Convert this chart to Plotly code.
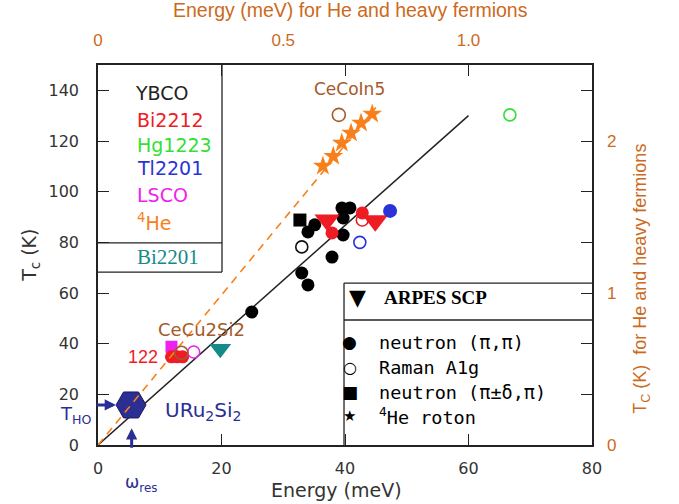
import plotly.graph_objects as go

# ---- data (primary axes: meV, K) ----
ybco_fill_E = [24.9, 33.0, 34.0, 37.9, 34.0, 35.1, 39.5, 40.8, 39.7, 39.7]
ybco_fill_T = [52.5, 67.9, 63.2, 74.2, 84.1, 86.9, 93.6, 93.6, 89.6, 82.9]
ybco_open_E = [33.0]
ybco_open_T = [78.2]
ybco_sq_E = [32.7]
ybco_sq_T = [88.8]
bi2212_fill_E = [37.9, 42.8]
bi2212_fill_T = [83.7, 91.6]
bi2212_open_E = [42.8]
bi2212_open_T = [88.8]
bi2212_arpes_E = [37.1, 44.9]
bi2212_arpes_T = [88.8, 88.5]
hg1223_open_E = [66.7]
hg1223_open_T = [130.3]
tl2201_fill_E = [47.3]
tl2201_fill_T = [92.4]
tl2201_open_E = [42.4]
tl2201_open_T = [80.0]
lsco_sq_E = [11.9]
lsco_sq_T = [38.8]
lsco_open_E = [15.5]
lsco_open_T = [36.7]
p122_E = [11.9, 12.8, 13.7]
p122_T = [34.8, 34.8, 34.8]
bi2201_E = [19.8]
bi2201_T = [38.0]
uru2si2_E = [5.35]
uru2si2_T = [15.8]
line_E = [0, 60]
line_T = [0, 130]

# ---- He and heavy fermions (secondary axes: meV, K) ----
he_E = [0.607, 0.635, 0.658, 0.683, 0.710, 0.740]
he_T = [1.835, 1.900, 1.987, 2.053, 2.118, 2.178]
hf_E = [0.650, 0.225]
hf_T = [2.172, 0.607]
he_line_E = [0, 0.75]
he_line_T = [0, 2.22]

ORANGE = "#CC6A1C"
STAR = "#F7801A"
BROWN = "#A45A2A"
NAVY = "#2B2E92"
RED = "#EE1C24"
GREEN = "#33E033"
BLUE = "#2B33D8"
MAG = "#EE22EE"
TEAL = "#158A8A"
FONT = "DejaVu Sans"
ARIAL = "Liberation Sans"
MONO = "DejaVu Sans Mono"

fig = go.Figure()


def sc(x, y, sym, color, size, filled=True, lw=1.6, xa="x", ya="y"):
    fig.add_trace(go.Scatter(
        x=x, y=y, mode="markers", xaxis=xa, yaxis=ya,
        marker=dict(symbol=sym if filled else sym + "-open", size=size,
                    color=color, line=dict(width=lw if not filled else 0, color=color)),
        showlegend=False, hoverinfo="skip", cliponaxis=False))


fig.add_trace(go.Scatter(x=line_E, y=line_T, mode="lines",
                         line=dict(color="#222", width=1.5), showlegend=False))
fig.add_trace(go.Scatter(x=he_line_E, y=he_line_T, mode="lines", xaxis="x2", yaxis="y2",
                         line=dict(color=STAR, width=1.6, dash="8px,6px"), showlegend=False))

sc(ybco_open_E, ybco_open_T, "circle", "#111", 12, filled=False)
sc(tl2201_open_E, tl2201_open_T, "circle", BLUE, 12, filled=False)
sc(ybco_fill_E, ybco_fill_T, "circle", "black", 13)
sc(ybco_sq_E, ybco_sq_T, "square", "black", 13)
sc(bi2212_arpes_E, bi2212_arpes_T, "triangle-down", RED, 22)
sc(bi2212_fill_E, bi2212_fill_T, "circle", RED, 13)
sc(bi2212_open_E, bi2212_open_T, "circle", RED, 12, filled=False)
sc(tl2201_fill_E, tl2201_fill_T, "circle", BLUE, 14)
sc(hg1223_open_E, hg1223_open_T, "circle", GREEN, 12, filled=False)
sc(lsco_sq_E, lsco_sq_T, "square", MAG, 12)
sc(p122_E, p122_T, "circle", RED, 13)
sc(lsco_open_E, lsco_open_T, "circle", MAG, 12, filled=False)
sc(bi2201_E, bi2201_T, "triangle-down", TEAL, 19)
fig.add_trace(go.Scatter(x=uru2si2_E, y=uru2si2_T, mode="markers",
                         marker=dict(symbol="hexagon2", size=30, color=NAVY,
                                     line=dict(width=1, color="#1a1a60")),
                         showlegend=False, hoverinfo="skip", cliponaxis=False))
sc(he_E, he_T, "star", STAR, 15, xa="x2", ya="y2")
sc(hf_E, hf_T, "circle", BROWN, 13, filled=False, xa="x2", ya="y2")

ann = []


def txt(x, y, s, color, size, xref="paper", yref="paper", xanchor="left", family=FONT, **kw):
    ann.append(dict(x=x, y=y, xref=xref, yref=yref, text=s, showarrow=False,
                    xanchor=xanchor, yanchor="middle",
                    font=dict(color=color, size=size, family=family), **kw))


# left box legend
txt(0.071, 0.926, "YBCO", "#222", 19)
txt(0.075, 0.855, "Bi2212", RED, 19)
txt(0.075, 0.789, "Hg1223", GREEN, 19)
txt(0.075, 0.729, "Tl2201", BLUE, 19)
txt(0.075, 0.658, "LSCO", MAG, 19)
txt(0.075, 0.587, "<sup>4</sup>He", STAR, 19)
txt(0.142, 0.495, "Bi2201", TEAL, 21, xanchor="center", family="Liberation Serif")

# right box legend
txt(0.526, 0.389, "▼", "black", 22, xanchor="center")
txt(0.575, 0.389, "<b>ARPES SCP</b>", "black", 19, family="Liberation Serif")
txt(0.510, 0.271, "●", "black", 17, xanchor="center")
txt(0.510, 0.205, "○", "black", 16, xanchor="center")
txt(0.510, 0.139, "■", "black", 17, xanchor="center")
txt(0.510, 0.076, "★", "black", 15, xanchor="center")
txt(0.565, 0.271, "neutron (π,π)", "black", 18.5, family=MONO)
txt(0.565, 0.205, "Raman A1g", "black", 18.5, family=MONO)
txt(0.565, 0.139, "neutron (π±δ,π)", "black", 18.5, family=MONO)
txt(0.565, 0.076, "<sup>4</sup>He roton", "black", 18.5, family=MONO)

# data labels
txt(40.8, 140.5, "CeCoIn5", BROWN, 17, xref="x", yref="y", xanchor="center")
txt(16.8, 45.4, "CeCu2Si2", BROWN, 18, xref="x", yref="y", xanchor="center")
txt(10.0, 34.7, "122", RED, 18, xref="x", yref="y", xanchor="right", family=ARIAL)
txt(10.5, 13.6, "URu<sub>2</sub>Si<sub>2</sub>", NAVY, 20, xref="x", yref="y")
# labels outside the frame (paper coords)
txt(-0.010, 0.080, "T<sub>HO</sub>", NAVY, 18, xanchor="right")
txt(0.087, -0.10, "ω<sub>res</sub>", NAVY, 17, xanchor="center")

# axis titles as annotations
txt(0.482, -0.118, "Energy (meV)", "#333", 19, xanchor="center")
txt(-0.138, 0.5, "T<sub>c</sub> (K)", "#333", 19, xanchor="center", textangle=-90)
txt(0.512, 1.145, "Energy (meV) for He and heavy fermions", ORANGE, 19.5, xanchor="center",
    family=ARIAL)
txt(1.101, 0.437, "T<sub>C</sub> (K)  for He and heavy fermions", ORANGE, 18, xanchor="center",
    family=ARIAL, textangle=-90)

# arrows
ann.append(dict(x=2.9, y=15.8, xref="x", yref="y", ax=-21, ay=0, text="", showarrow=True,
                arrowhead=2, arrowsize=0.75, arrowwidth=3, arrowcolor=NAVY))
ann.append(dict(x=5.45, y=6.6, xref="x", yref="y", ax=0, ay=21, text="", showarrow=True,
                arrowhead=2, arrowsize=0.75, arrowwidth=3, arrowcolor=NAVY))

LW = dict(color="#222", width=1.3)
shapes = [
    dict(type="line", xref="paper", yref="paper", x0=0.251, x1=0.251, y0=0.455, y1=1, line=LW),
    dict(type="line", xref="paper", yref="paper", x0=0, x1=0.251, y0=0.532, y1=0.532, line=LW),
    dict(type="line", xref="paper", yref="paper", x0=0, x1=0.251, y0=0.455, y1=0.455, line=LW),
    dict(type="line", xref="paper", yref="paper", x0=0.498, x1=0.498, y0=0, y1=0.426, line=LW),
    dict(type="line", xref="paper", yref="paper", x0=0.498, x1=1, y0=0.426, y1=0.426, line=LW),
    dict(type="line", xref="paper", yref="paper", x0=0.498, x1=1, y0=0.329, y1=0.329, line=LW),
]

tickfont = dict(family=FONT, size=16, color="#333")
otickfont = dict(family=ARIAL, size=17, color=ORANGE)

fig.update_layout(
    width=679, height=504,
    margin=dict(l=98, r=87, t=65, b=59, autoexpand=False),
    plot_bgcolor="white", paper_bgcolor="white",
    showlegend=False,
    annotations=ann, shapes=shapes,
    xaxis=dict(range=[0, 80], tickvals=[0, 20, 40, 60, 80], ticks="inside", ticklen=11,
               tickcolor="#222", showline=True, linecolor="#222", linewidth=1.5,
               mirror="ticks", showgrid=False, zeroline=False, tickfont=tickfont,
               ticklabelstandoff=8, automargin=False),
    yaxis=dict(range=[0, 150], tickvals=[0, 20, 40, 60, 80, 100, 120, 140], ticks="inside",
               ticklen=11, tickcolor="#222", showline=True, linecolor="#222", linewidth=1.5,
               mirror="ticks", showgrid=False, zeroline=False, tickfont=tickfont,
               ticklabelstandoff=14, automargin=False),
    xaxis2=dict(range=[0, 80 / 60], overlaying="x", side="top", tickvals=[0, 0.5, 1.0],
                ticktext=["0", "0.5", "1.0"], ticks="", showgrid=False, zeroline=False,
                showline=False, tickfont=otickfont, ticklabelstandoff=15, automargin=False),
    yaxis2=dict(range=[0, 2.5], overlaying="y", side="right", tickvals=[0, 1, 2],
                ticks="", showgrid=False, zeroline=False, showline=False, tickfont=otickfont,
                ticklabelstandoff=14, automargin=False),
)

fig.write_html("out.html")
